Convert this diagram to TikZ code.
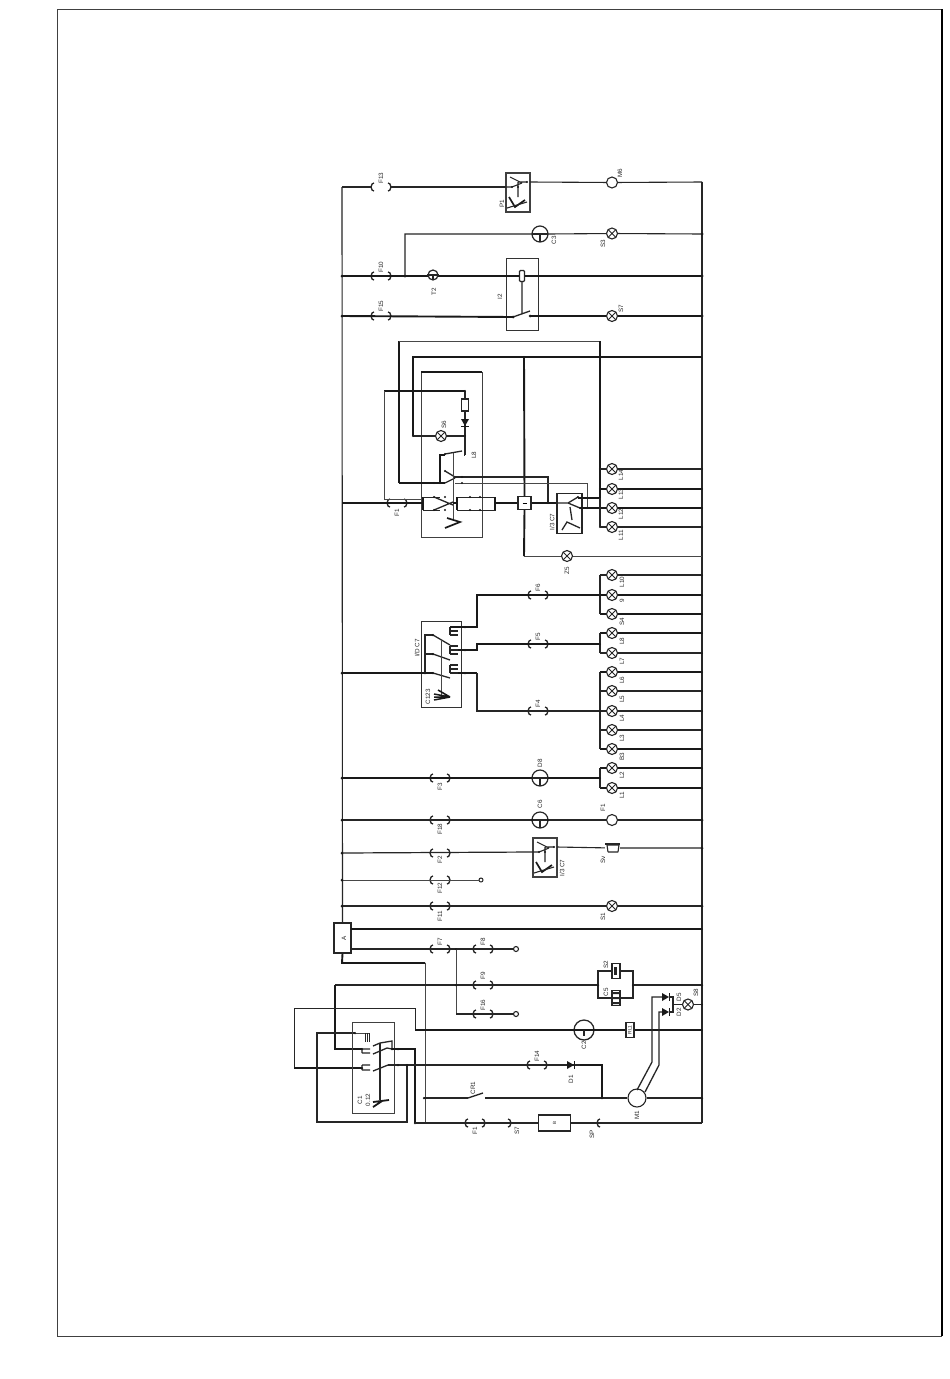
\documentclass[tikz,border=0pt]{standalone}
\usepackage{fontspec}
\setmainfont{Liberation Sans}
\tikzset{
  x=1pt,y=-1pt,
  wire/.style={line width=1.1pt,draw=black!85},
  thin wire/.style={line width=0.9pt,draw=black!72},
  heavy/.style={line width=1.9pt,draw=black!90},
  fusebox/.style={draw=none,minimum width=20pt,minimum height=9pt,inner sep=0pt},
  fusepen/.style={line width=1.3pt,draw=black!85},
  lamp/.style={circle,draw=black!85,fill=white,line width=1.1pt,minimum size=11pt,inner sep=0pt,
    path picture={\draw[line width=0.9pt,black!85] (path picture bounding box.north west)--(path picture bounding box.south east)
      (path picture bounding box.north east)--(path picture bounding box.south west);}},
  motor/.style={circle,draw=black!85,fill=white,line width=1.1pt,minimum size=#1,inner sep=0pt},
  box/.style={draw=black!85,fill=white,line width=1.1pt,inner sep=0pt},
  frame/.style={draw=black!75,line width=0.9pt},
  dot/.style={circle,fill=black!90,inner sep=0pt,minimum size=3pt},
  tag/.style={font=\fontsize{6.3}{6.3}\selectfont,rotate=90,text=black!85,inner sep=0pt},
  gauge/.pic={
    \coordinate (-in) at (0,14);
    \coordinate (-out) at (24,9);
    \draw[frame,line width=1.1pt,fill=white] (0,0) rectangle (24,39);
    \draw[wire] (0,14)--(6,14) (4,4)--(16,10) (6,14)--(16,10) (12,9)--(21,9) (12,9)--(12,24);
    \node[dot,minimum size=2.4pt] at (6,14) {};
    \node[dot,minimum size=2.4pt] at (21,9) {};
    \node[dot,minimum size=2.4pt] at (12,14) {};
    \draw[line width=1.7pt,black!90] (3,24)--(9,34)--(19,27);
    \draw[wire] (1,35)--(21,29);
  },
  cap/.pic={
    \coordinate (-w) at (-8,0);
    \coordinate (-e) at (8,0);
    \draw[line width=1.2pt,black!85,fill=white] (0,0) circle (8);
    \draw[line width=1.2pt,black!85] (-8,0)--(8,0) (0,0)--(0,8);
  }
}
\newcommand{\fuse}[3]{\node[fusebox] (#1) at (#2,#3) {};
  \draw[fusepen] (#2-7,#3-4) .. controls (#2-11,#3-3) and (#2-8,#3-1) .. (#2-10,#3) .. controls (#2-8,#3+1) and (#2-11,#3+3) .. (#2-7,#3+4)
     (#2+7,#3-4) .. controls (#2+11,#3-3) and (#2+8,#3-1) .. (#2+10,#3) .. controls (#2+8,#3+1) and (#2+11,#3+3) .. (#2+7,#3+4);}
\newcommand{\prongs}[2]{\draw[line width=1.1pt,black!85] (#1,#2)--(#1+8,#2) (#1,#2+4)--(#1+8,#2+4) (#1,#2+8)--(#1+8,#2+8) (#1,#2)--(#1,#2+8);}
\newcommand{\diodeD}[3]{\node[inner sep=0pt,minimum size=1pt] (#1) at (#2,#3) {};
  \fill[black!90] (#2-4,#3-4)--(#2+4,#3-4)--(#2,#3+3)--cycle;
  \draw[line width=1pt,black!90] (#2-4,#3+3)--(#2+4,#3+3);}
\newcommand{\diodeR}[3]{\node[inner sep=0pt,minimum size=1pt] (#1) at (#2,#3) {};
  \fill[black!90] (#2-4,#3-4)--(#2-4,#3+4)--(#2+3,#3)--cycle;
  \draw[line width=1pt,black!90] (#2+3,#3-4)--(#2+3,#3+4);}
\newcommand{\lb}[3]{\node[tag] at (#2,#3) {#1};}
\begin{document}
\begin{tikzpicture}
\useasboundingbox (0,0) rectangle (950,1379);
\fill[white] (0,0) rectangle (950,1379);
\draw[frame,line width=0.8pt] (942,9)--(57,9)--(57,1336)--(942,1336);
\draw[line width=1.3pt,black] (942,9)--(942,1336);

% rails
\coordinate (LT) at (342,187);
\coordinate (RT) at (702,182);
\coordinate (RB) at (702,1123);
\node[box,minimum width=17pt,minimum height=30pt] (A) at (342.5,938) {};
\draw[wire] (LT)--(A.north);
\draw[wire] (RT)--(RB);

% row 1
\fuse{F13}{381}{187}
\pic (P1) at (506,173) {gauge};
\draw[wire] (LT)--(F13)--(P1-in);
\node[motor=11pt] (M6) at (612,182.5) {};
\draw[wire] (P1-out)--(M6)--(RT);
% row 2
\coordinate (j2) at (405,276);
\coordinate (R2) at (702,234);
\pic (C3) at (540,234) {cap};
\node[lamp] (S3) at (612,233.5) {};
\draw[wire] (j2)--(405,234)--(C3-w) (C3-e)--(S3)--(R2);
% row 3
\fuse{F10}{381}{276}
\coordinate (L3) at (342,276);
\coordinate (R3) at (702,276);
\node[draw=black!80,line width=0.8pt,minimum width=32pt,minimum height=72pt,inner sep=0pt] (I2) at (522,294) {};
\draw[heavy] (L3)--(R3);
\node[box,rounded corners=1pt,minimum width=5pt,minimum height=11pt] (I2c) at (522,276) {};
\node[circle,draw=black!85,fill=white,line width=1.2pt,minimum size=10pt,inner sep=0pt] (T2) at (433,275) {};
\draw[wire] (T2.west)--(T2.east) (433,275)--(433,280);
% row 4
\fuse{F15}{381}{316}
\coordinate (L4) at (342,316);
\coordinate (R4) at (702,316);
\coordinate (I2a) at (513,317);
\coordinate (I2b) at (530,316);
\node[lamp] (S7) at (612,316) {};
\draw[heavy] (L4)--(I2a) (I2b)--(S7)--(R4);
\draw[wire,line width=1.3pt] (I2a)--(530,311) (I2c)--(522,313);
\node[dot] at (I2a) {}; \node[dot] at (I2b) {};
\foreach \p in {(L3),(L4),(j2),(R3),(R4),(R2)} \node[dot] at \p {};

% section 2
\draw[frame,line width=0.9pt] (421,372) rectangle (482,537);
\draw[heavy] (421,372)--(482,372);
\coordinate (R5) at (702,357);
\coordinate (J5) at (524,357);
\coordinate (L5) at (342,503);
\fuse{F1b}{397}{503}
\node[box,minimum width=13pt,minimum height=13pt] (K) at (524.5,503) {};
\node[inner sep=0pt] at (K) {\rule{4pt}{0.8pt}};
\draw[heavy] (K.north)--(J5);
\draw[heavy] (413,436)--(413,357)--(R5);
\node[lamp] (S6i) at (441,436) {};
\draw[wire] (S6i)--(465,436);
\draw[wire,line width=1.3pt] (413,436)--(S6i);
\draw[wire,line width=1.3pt] (465,391)--(465,455);
\draw[heavy] (384,391)--(465,391);
\draw[thin wire] (384,391)--(384,499)--(423,499);
\node[box,minimum width=7pt,minimum height=12pt] (RR) at (465,405) {};
\diodeD{DD}{465}{423}
\draw[heavy] (K.south)--(524,556);
\node[lamp] (Z5) at (567,556) {};
\coordinate (R6) at (702,556);
\draw[thin wire] (524,556)--(Z5)--(R6);
% main
\draw[heavy] (L5)--(423,503);
\draw[line width=1.3pt,black!90] (423,497)--(423,510);
\draw[wire,line width=0.9pt] (423,497)--(440,497) (423,510)--(440,510) (457,497) rectangle (495,510);
\draw[line width=1.3pt,black!90] (495,497)--(495,510) (457,497)--(457,510);
\draw[heavy] (495,503)--(K.west) (K.east)--(557,503);
% switches
\draw[wire,line width=1.3pt] (434,497)--(453,505) (434,510)--(453,502)
   (445,454)--(462,451) (445,471)--(455,477) (445,483)--(455,478);
\draw[thin wire] (453,453)--(453,520);
\draw[heavy] (453,503)--(458,503);
\draw[line width=1.7pt,black!90] (447,518)--(460,522)--(445,528);
\draw[heavy] (440,483)--(440,455)--(445,455) (399,483)--(445,483);
\draw[heavy] (399,483)--(399,341);
\draw[thin wire,line width=1pt] (399,341)--(600,341);
\draw[heavy] (600,341)--(600,498)--(577,498);
\draw[wire] (455,477)--(548,477)--(548,503);
\draw[thin wire] (455,483)--(587,483)--(587,508);
\draw[wire] (464,455)--(465,455);
\foreach \p in {(434,483),(440,483),(445,454),(445,471),(462,477),(462,483),(434,497),(434,510),(470,497),(470,510),(445,497),(445,510),(480,497),(480,510),(524,357),(600,469),(600,489),(600,527),(587,508),(548,503),(465,436),(465,391),(413,436)} \node[dot,minimum size=2.4pt] at \p {};
% I/3 box
\node[box,minimum width=25pt,minimum height=40pt] (I3) at (569.5,513.5) {};
\draw[wire,line width=1.3pt] (558,503)--(568,503)--(578,497) (568,503)--(580,508) (570,507)--(572,520);
\draw[wire,line width=1.3pt] (562,530)--(567,522)--(580,528);
\draw[heavy] (578,498)--(600,498) (580,508)--(600,508);
\node[dot,minimum size=2.4pt] at (578,497) {}; \node[dot,minimum size=2.4pt] at (580,508) {};
% lamps upper
\foreach \nm/\yy/\st in {L14/469/wire,L13/489/heavy,L12/508/heavy,L11/527/wire}{
  \node[lamp] (\nm) at (612,\yy) {};
  \coordinate (\nm r) at (702,\yy);
  \draw[\st] (600,\yy)--(\nm) (\nm)--(\nm r);
  \node[dot,minimum size=2pt] at (\nm r) {};
}
\draw[wire,line width=1.3pt] (600,498)--(600,527);

% section 3
\node[draw=black!80,line width=0.9pt,minimum width=40pt,minimum height=86pt,inner sep=0pt] (S3box) at (441.5,664) {};
\coordinate (L7) at (342,673);
\draw[heavy] (L7)--(425,673)--(433,673);
\draw[wire] (425,673)--(425,635)--(433,635) (425,654)--(433,654);
\draw[wire,line width=1.3pt] (433,635)--(450,645) (433,654)--(450,660) (433,673)--(450,678);
\draw[thin wire] (441,640)--(441,697);
\draw[line width=1.5pt,black!90] (434,694)--(450,697) (434,700)--(450,697) (434,697)--(450,697) (438,690)--(450,697);
\prongs{450}{627}\prongs{450}{646}\prongs{450}{665}
\foreach \p in {(425,673),(433,635),(433,654),(433,673),(465,627),(465,650),(465,673)} \node[dot,minimum size=2.5pt] at \p {};
\fuse{F6}{538}{595}
\draw[heavy] (450,627)--(477,627)--(477,595)--(600,595);
\fuse{F5}{538}{644}
\draw[heavy] (458,650)--(477,650)--(477,644)--(600,644);
\fuse{F4}{538}{711}
\draw[heavy] (458,673)--(477,673);
\draw[wire,line width=1.3pt] (477,673)--(477,711)--(600,711);
\foreach \nm/\yy/\st in {L10/575/wire,L9/595/heavy,S4/614/heavy,L8/633/heavy,L7x/653/wire,L6/672/heavy,L5/691/wire,L4/711/wire,L3x/730/wire,B3/749/heavy,L2/768/heavy,L1/788/heavy}{
  \node[lamp] (\nm) at (612,\yy) {};
  \coordinate (\nm r) at (702,\yy);
  \draw[\st] (600,\yy)--(\nm) (\nm)--(\nm r);
  \node[dot,minimum size=2pt] at (\nm r) {};
}
\draw[wire,line width=1.4pt] (600,575)--(600,614) (600,633)--(600,653) (600,672)--(600,749) (600,768)--(600,788);
\foreach \yy in {595,644,711,778} \node[dot,minimum size=2pt] at (600,\yy) {};
% row 778
\coordinate (L8l) at (342,778);
\fuse{F3}{440}{778}
\pic (C8) at (540,778) {cap};
\draw[heavy] (L8l)--(C8-w) (C8-e)--(600,778);
% row 820
\coordinate (L20) at (342,820);
\coordinate (R20) at (702,820);
\fuse{F18}{440}{820}
\pic (C6) at (540,820) {cap};
\node[motor=11pt] (Fm) at (612,820) {};
\draw[wire] (L20)--(C6-w) (C6-e)--(Fm)--(R20);
\node[dot,minimum size=2.5pt] at (C6-w) {};\node[dot,minimum size=2.5pt] at (C6-e) {};
% row 853
\coordinate (L21) at (342,853);
\coordinate (R21) at (702,848);
\fuse{F2}{440}{853}
\pic (G2) at (533,838) {gauge};
\draw[wire,line width=1.2pt] (L21)--(G2-in);
\node[draw=none,minimum width=14pt,minimum height=9pt,inner sep=0pt] (Hn) at (612.5,848) {};
\draw[wire] (G2-out)--(Hn)--(R21);
\fill[white] (605,842) rectangle (620,853);
\draw[line width=1.1pt,black!85] (608,852)--(618,852) (608,852) -- (607,845)--(619,845)--(618,852);
\draw[line width=2pt,black!85] (605,843.5)--(620,843.5);
% row 880
\coordinate (L22) at (342,880);
\fuse{F12}{440}{880}
\node[circle,draw=black!85,fill=white,line width=1pt,minimum size=4pt,inner sep=0pt] (E22) at (481,880) {};
\draw[thin wire] (L22)--(E22);
% row 906
\coordinate (L23) at (342,906);
\coordinate (R23) at (702,906);
\fuse{F11}{440}{906}
\node[lamp] (S1) at (612,906) {};
\draw[wire] (L23)--(S1)--(R23);
\foreach \p in {(L7),(L8l),(L20),(L21),(L22),(L23),(R20),(R21),(R23)} \node[dot] at \p {};
% A rows
\coordinate (R24) at (702,929);
\draw[line width=2.1pt,black!90] (351,929)--(R24);
\fuse{F7}{440}{949}
\fuse{F8}{483}{949}
\coordinate (j25) at (456,949);
\node[circle,draw=black!85,fill=white,line width=1.1pt,minimum size=5pt,inner sep=0pt] (E25) at (516,949) {};
\draw[wire,line width=1.3pt] (351,949)--(E25);
\fuse{F16}{483}{1014}
\node[circle,draw=black!85,fill=white,line width=1.1pt,minimum size=5pt,inner sep=0pt] (E26) at (516,1014) {};
\draw[thin wire] (j25)--(456,1014);
\draw[wire,line width=1.3pt] (456,1014)--(E26);
\node[dot,minimum size=2pt] at (j25) {};
\draw[heavy] (A.south)--(342,963)--(425,963);
\draw[thin wire] (425,963)--(425,1123);
\node[dot,minimum size=2pt] at (R24) {};

% row F9
\fuse{F9}{483}{985}
\coordinate (c1) at (598,985);
\coordinate (c2) at (633,985);
\coordinate (R27) at (702,985);
\node[box,minimum width=8pt,minimum height=15pt] (S2) at (616,971) {};
\node[box,minimum width=8pt,minimum height=15pt] (C5) at (616,998) {};
\fill[black!85] (613.5,966.5) rectangle (617,975);
\fill[black!85] (612,992) rectangle (620,994) (612,997) rectangle (620,999) (612,1002) rectangle (620,1004);
\draw[wire] (335,985)--(c1) (c2)--(R27);
\draw[wire,line width=1.1pt] (c1)--(598,971)--(S2.west) (S2.east)--(633,971)--(c2)--(633,998)--(C5.east) (C5.west)--(598,998)--(c1);
\node[dot,minimum size=2.5pt] at (c1) {};\node[dot,minimum size=2.5pt] at (c2) {};\node[dot,minimum size=2.5pt] at (R27) {};
\draw[heavy] (335,985)--(335,1049)--(362,1049);
\draw[wire,line width=1pt] (415,1030)--(415,1008)--(294,1008)--(294,1068);
\draw[heavy] (294,1068)--(362,1068);
% motor C2
\coordinate (R28) at (702,1030);
\draw[heavy] (415,1030)--(R28);
\node[motor=20pt,line width=1.3pt] (C2) at (584,1030) {};
\draw[heavy] (C2.west)--(C2.east);
\draw[wire] (584,1030)--(584,1036);
\node[box,fill=white,minimum width=8pt,minimum height=15pt] (RL) at (630,1030) {};
\node[tag,font=\fontsize{5}{5}\selectfont] at (630,1030) {RL1};
\node[dot,minimum size=2pt] at (R28) {};
% loop 3
\draw[wire,line width=1.5pt] (355,1033)--(317,1033)--(317,1122)--(407,1122)--(407,1065);
\draw[thin wire] (355,1033)--(370,1033);
\draw[frame,line width=0.9pt] (352,1022) rectangle (394,1113);
\draw[wire,line width=1.3pt] (362,1049)--(370,1049)(362,1053)--(370,1053)(362,1049)--(362,1053)
   (362,1065)--(370,1065)(362,1070)--(370,1070)(362,1065)--(362,1070)
   (373,1046)--(380,1043)--(392,1041)--(392,1049)
   (373,1054)--(387,1048)--(392,1049)
   (373,1071)--(388,1065);
\draw[wire,line width=1.3pt] (380,1043)--(380,1100);
\draw[heavy] (392,1049)--(415,1049)--(415,1123);
\draw[line width=1.8pt,black!90] (373,1102)--(389,1100) (373,1107)--(382,1101);
\draw[line width=0.9pt,black!85] (367,1033)--(367,1042) (369,1033)--(369,1042) (365,1033)--(365,1042);
\draw[wire,line width=1.2pt] (388,1065)--(602,1065);
\fuse{F14}{537}{1065}
\diodeR{D1}{571}{1065}
\draw[heavy] (580,1065)--(602,1065)--(602,1098);
\foreach \p in {(392,1049),(398,1049),(398,1065),(407,1065),(355,1033),(362,1049),(362,1068),(415,1123),(456,985)} \node[dot,minimum size=2.5pt] at \p {};
% row CR1
\coordinate (c3) at (424,1098);
\coordinate (R30) at (702,1098);
\node[motor=18pt,line width=1.1pt] (M1) at (637,1098) {};
\draw[wire,line width=1.4pt] (c3)--(468,1098) (485,1098)--(M1) (M1)--(R30);
\draw[wire,line width=1.3pt] (468,1098)--(483,1093);
\node[dot,minimum size=2.5pt] at (c3) {};\node[dot,minimum size=2.5pt] at (602,1098) {};\node[dot,minimum size=2.5pt] at (R30) {};
% bottom row
\fuse{Fa}{475}{1123}
\node[box,minimum width=32pt,minimum height=16pt,line width=1.2pt] (B) at (554.5,1123) {};
\node[tag,font=\fontsize{4.5}{4.5}\selectfont] at (B) {B};
\draw[wire,line width=1.3pt] (415,1123)--(B.west) (B.east)--(RB);
\draw[fusepen] (508,1119) .. controls (512,1120) and (509,1122) .. (511,1123) .. controls (509,1124) and (512,1126) .. (508,1127);
\draw[fusepen] (600,1119) .. controls (596,1120) and (599,1122) .. (597,1123) .. controls (599,1124) and (596,1126) .. (600,1127);
% M1 leads and diodes
\draw[wire,line width=1.3pt] (637,1090)--(652,1062)--(652,997)--(662,997);
\draw[wire,line width=1.3pt] (645,1092)--(659,1065)--(659,1012)--(662,1012);
\diodeR{D5}{666}{997}
\diodeR{D3}{666}{1012}
\coordinate (n6) at (673,1004.5);
\coordinate (R31) at (702,1004.5);
\draw[wire,line width=1.3pt] (669,997)--(673,997)--(673,1012)--(669,1012);
\node[lamp] (S8) at (688,1004.5) {};
\draw[wire,line width=1.3pt] (n6)--(S8)--(R31);
\node[dot,minimum size=2pt] at (R31) {};

% labels
\lb{F13}{381}{178}\lb{M6}{620}{173}\lb{P1}{502}{204}\lb{C3}{554}{240}\lb{S3}{603}{244}
\lb{F10}{381}{267}\lb{T2}{434}{292}\lb{I2}{500}{297}\lb{F15}{381}{306}\lb{S7}{621}{309}
\lb{S6}{444}{425}\lb{L8}{474}{455}\lb{F1}{397}{513}\lb{I/3 C7}{552}{522}
\lb{L14}{621}{475}\lb{L13}{621}{494}\lb{L12}{621}{514}\lb{L11}{621}{535}\lb{Z5}{567}{571}
\lb{L10}{622}{582}\lb{9}{622}{601}\lb{S4}{622}{622}\lb{L8}{622}{641}\lb{L7}{622}{661}
\lb{L6}{622}{680}\lb{L5}{622}{699}\lb{L4}{622}{718}\lb{L3}{622}{738}\lb{B3}{622}{757}\lb{L2}{622}{775}\lb{L1}{622}{795}
\lb{F6}{538}{588}\lb{F5}{538}{637}\lb{F4}{538}{704}\lb{I/D C7}{417}{648}\lb{C123}{428}{697}
\lb{F3}{440}{787}\lb{D8}{540}{763}\lb{C6}{540}{804}\lb{F1}{603}{808}\lb{F18}{440}{829}
\lb{F2}{440}{860}\lb{F12}{440}{888}\lb{F11}{440}{916}\lb{I/3 C7}{562}{868}\lb{Sv}{603}{860}\lb{S1}{603}{917}
\lb{F7}{440}{942}\lb{F8}{483}{942}\lb{F9}{483}{976}\lb{F16}{483}{1005}\lb{S2}{606}{965}\lb{C5}{606}{992}\lb{A}{344}{938}
\lb{F14}{537}{1056}\lb{D1}{571}{1079}\lb{C2}{584}{1045}\lb{M1}{637}{1115}\lb{D5}{679}{997}\lb{D2}{679}{1012}\lb{S8}{696}{993}
\lb{F1}{475}{1131}\lb{S7}{517}{1131}\lb{SP}{592}{1134}\lb{CR1}{473}{1088}\lb{C1}{360}{1100}\lb{0.12}{368}{1100}
\end{tikzpicture}
\end{document}
